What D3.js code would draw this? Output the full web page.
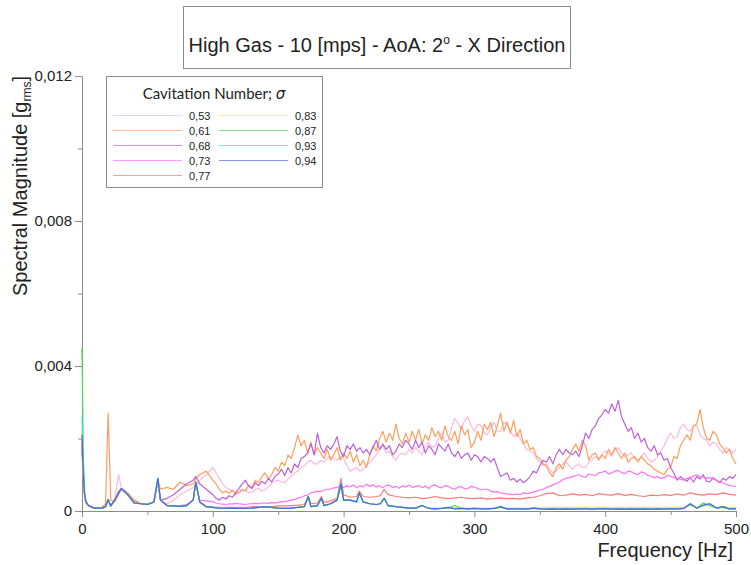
<!DOCTYPE html>
<html>
<head>
<meta charset="utf-8">
<script src="https://cdn.jsdelivr.net/npm/d3@7"></script>
<style>
  body { margin: 0; background: #fff; }
  svg text { font-family: "Liberation Sans", Arial, sans-serif; fill: #222; }
  .axis path, .axis line { stroke: #8c8c8c; }
</style>
</head>
<body>
<div id="chart"></div>
<script>
// Frequency grid [Hz] for the flat, low curves
const freqHz = [
  0, 1, 2, 3, 5, 8, 10, 15, 18, 20, 22, 25, 28, 30, 33, 35, 40, 45, 50, 55, 58, 60, 65, 70, 75, 80, 85, 87, 90, 95, 100,
  105, 110, 115, 120, 125, 130, 135, 140, 145, 150, 155, 160, 165, 170, 173, 175, 180, 183, 185, 190,
  195, 198, 200, 205, 210, 212, 215, 220, 225, 228, 231, 234, 240, 245, 250,
  255, 260, 265, 270, 275, 280, 285, 290, 295, 300, 305, 310, 315, 320, 325, 330, 335, 340, 345, 350,
  355, 360, 365, 370, 375, 380, 385, 390, 395, 400, 405, 410, 415, 420, 425, 430, 435, 440, 445, 450,
  455, 460, 465, 470, 475, 480, 485, 490, 495, 500
];
// Finer grid [Hz] for the noisy curves: same up to 100 Hz, then every 2.5 Hz
const freqFineHz = [
  0, 1, 2, 3, 5, 8, 10, 15, 18, 20, 22, 25, 28, 30, 33, 35, 40, 45, 50, 55, 58, 60, 65, 70, 75, 80, 85, 87, 90, 95, 100,
  102.5, 105, 107.5, 110, 112.5, 115, 117.5, 120, 122.5, 125, 127.5, 130, 132.5, 135, 137.5, 140, 142.5, 145, 147.5, 150,
  152.5, 155, 157.5, 160, 162.5, 165, 167.5, 170, 172.5, 175, 177.5, 180, 182.5, 185, 187.5, 190, 192.5, 195, 197.5, 200,
  202.5, 205, 207.5, 210, 212.5, 215, 217.5, 220, 222.5, 225, 227.5, 230, 232.5, 235, 237.5, 240, 242.5, 245, 247.5, 250,
  252.5, 255, 257.5, 260, 262.5, 265, 267.5, 270, 272.5, 275, 277.5, 280, 282.5, 285, 287.5, 290, 292.5, 295, 297.5, 300,
  302.5, 305, 307.5, 310, 312.5, 315, 317.5, 320, 322.5, 325, 327.5, 330, 332.5, 335, 337.5, 340, 342.5, 345, 347.5, 350,
  352.5, 355, 357.5, 360, 362.5, 365, 367.5, 370, 372.5, 375, 377.5, 380, 382.5, 385, 387.5, 390, 392.5, 395, 397.5, 400,
  402.5, 405, 407.5, 410, 412.5, 415, 417.5, 420, 422.5, 425, 427.5, 430, 432.5, 435, 437.5, 440, 442.5, 445, 447.5, 450,
  452.5, 455, 457.5, 460, 462.5, 465, 467.5, 470, 472.5, 475, 477.5, 480, 482.5, 485, 487.5, 490, 492.5, 495, 497.5, 500
];

// Spectral magnitude, in units of 0.001 g_rms, one array per cavitation number
const sigma053 = [
  1.8, 1.0, 0.45, 0.25, 0.15, 0.1, 0.08, 0.08, 0.12, 0.3, 0.14, 0.35, 1.0, 0.65, 0.55, 0.45, 0.22, 0.2, 0.18, 0.25, 0.85, 0.3, 0.2, 0.3, 0.45, 0.55, 0.65, 0.7, 0.85, 1.0, 1.2,
  1.05, 0.9, 0.75, 0.65, 0.6, 0.55, 0.52, 0.5, 0.55, 0.58, 0.5, 0.52, 0.6, 0.62, 0.55, 0.58, 0.68, 0.75, 0.82, 0.85,
  0.8, 0.78, 0.88, 0.95, 1.05, 1.1, 1.2, 1.25, 1.35, 1.4, 1.3, 1.3, 1.4, 1.35, 1.45, 1.5, 1.45, 1.4, 1.5, 1.45,
  1.25, 1.1, 1.15, 1.2, 1.1, 1.15, 1.25, 1.35, 1.45, 1.55, 1.7, 1.8, 1.6, 1.65, 1.5, 1.4, 1.55, 1.6, 1.55, 1.7,
  1.6, 1.75, 1.65, 1.55, 1.8, 1.9, 1.75, 1.8, 2.0, 2.15, 1.9, 1.95, 2.3, 2.55, 2.4, 2.25, 2.5, 2.6, 2.35, 2.2,
  2.4, 2.35, 2.15, 2.1, 2.3, 2.45, 2.2, 2.2, 2.45, 2.4, 2.2, 2.05, 2.15, 2.0, 1.85, 1.7, 1.65, 1.6, 1.45, 1.35,
  1.25, 1.3, 1.15, 1.05, 1.1, 1.2, 1.3, 1.35, 1.25, 1.15, 1.25, 1.3, 1.2, 1.2, 1.35, 1.4, 1.5, 1.45, 1.55, 1.65,
  1.6, 1.5, 1.7, 1.75, 1.6, 1.5, 1.55, 1.6, 1.45, 1.4, 1.5, 1.6, 1.45, 1.35, 1.4, 1.5, 1.65, 1.8, 2.0, 2.15,
  2.0, 2.05, 2.3, 2.4, 2.25, 2.2, 2.35, 2.35, 2.1, 2.0, 1.95, 1.8, 1.9, 1.85, 1.7, 1.6, 1.75, 1.7, 1.6, 1.7
];
const sigma061 = [
  1.6, 0.9, 0.4, 0.22, 0.14, 0.1, 0.08, 0.1, 0.2, 2.7, 0.3, 0.25, 0.45, 0.6, 0.55, 0.5, 0.3, 0.2, 0.2, 0.25, 0.85, 0.6, 0.65, 0.6, 0.8, 0.7, 0.75, 0.9, 1.0, 1.1, 0.85,
  0.75, 0.6, 0.5, 0.55, 0.48, 0.58, 0.45, 0.52, 0.6, 0.55, 0.72, 0.65, 0.85, 0.78, 0.95, 1.05, 0.88, 1.0, 1.2, 1.1,
  1.35, 1.25, 1.55, 1.45, 1.75, 2.1, 1.8, 1.95, 1.6, 1.9, 1.55, 1.75, 1.6, 1.45, 1.7, 1.4, 1.55, 1.75, 1.4, 1.6,
  1.45, 1.65, 1.35, 1.55, 1.25, 1.4, 1.2, 1.55, 1.8, 1.65, 2.0, 2.2, 1.9, 2.15, 1.95, 2.4, 2.0, 1.85, 2.15, 1.9,
  2.2, 1.95, 2.25, 1.85, 2.1, 1.95, 2.3, 2.05, 2.2, 1.95, 2.35, 2.05, 1.95, 2.2, 1.85, 2.35, 2.1, 2.25, 1.75, 1.9,
  2.2, 1.95, 2.4, 2.25, 2.45, 2.05, 2.35, 2.7, 2.2, 2.45, 2.15, 2.5, 2.05, 2.25, 1.85, 1.95, 1.7, 1.75, 1.5, 1.45,
  1.3, 1.25, 1.05, 0.95, 1.2, 1.3, 1.15, 1.4, 1.5, 1.7, 1.85, 1.65, 1.95, 1.8, 1.4, 1.55, 1.6, 1.4, 1.55, 1.45,
  1.7, 1.55, 1.75, 1.6, 1.45, 1.6, 1.35, 1.45, 1.5, 1.35, 1.5, 1.4, 1.3, 1.25, 1.15, 1.1, 1.05, 1.0, 1.15, 1.2,
  1.5, 1.45, 1.8, 1.95, 2.1, 1.95, 2.35, 2.4, 2.8, 2.3, 2.0, 1.95, 2.2, 2.1, 1.85, 1.75, 1.6, 1.7, 1.45, 1.3
];
const sigma068 = [
  1.9, 1.0, 0.45, 0.25, 0.15, 0.1, 0.08, 0.08, 0.12, 0.3, 0.14, 0.3, 0.5, 0.62, 0.5, 0.45, 0.22, 0.2, 0.18, 0.25, 0.85, 0.3, 0.35, 0.45, 0.6, 0.75, 0.85, 0.95, 0.75, 0.6, 0.45,
  0.35, 0.3, 0.38, 0.33, 0.42, 0.38, 0.5, 0.62, 0.75, 0.85, 0.68, 0.62, 0.78, 0.7, 0.82, 0.75, 0.9, 0.8, 0.95, 1.02,
  1.15, 0.98, 1.2, 1.05, 1.3, 1.2, 1.45, 1.5, 1.6, 1.85, 1.55, 2.15, 1.75, 1.6, 1.8, 1.7, 1.85, 2.05, 1.65, 1.5,
  1.8, 1.7, 1.85, 1.65, 1.75, 1.6, 1.7, 1.55, 1.75, 1.95, 1.7, 1.85, 1.7, 1.8, 1.55, 1.65, 1.85, 1.75, 1.95, 1.85,
  1.7, 1.95, 1.75, 1.9, 1.6, 1.8, 1.7, 1.55, 1.85, 1.75, 1.65, 1.85, 1.6, 1.5, 1.65, 1.45, 1.55, 1.6, 1.4, 1.55,
  1.5, 1.35, 1.5, 1.45, 1.35, 1.45, 1.2, 0.95, 1.0, 1.05, 0.85, 0.9, 0.8, 0.88, 0.78, 0.85, 0.95, 1.1, 1.05, 1.25,
  1.4, 1.35, 1.5, 1.3, 1.55, 1.7, 1.55, 1.7, 1.6, 1.55, 1.65, 1.5, 1.8, 2.15, 2.0, 2.25, 2.35, 2.55, 2.65, 2.8,
  2.7, 2.95, 2.75, 3.05, 2.6, 2.4, 2.2, 2.3, 2.0, 2.15, 1.9, 2.0, 1.75, 1.65, 1.8, 1.55, 1.6, 1.4, 1.45, 1.2,
  1.05, 0.85, 0.95, 0.88, 0.82, 0.92, 0.8, 0.95, 0.88, 1.0, 0.82, 0.8, 0.92, 0.85, 0.78, 0.9, 0.85, 0.95, 0.9, 1.0
];
const sigma073 = [
  2.0, 1.0, 0.45, 0.25, 0.15, 0.1, 0.08, 0.08, 0.12, 0.3, 0.14, 0.3, 0.55, 0.6, 0.5, 0.45, 0.22, 0.2, 0.18, 0.25, 0.85, 0.3, 0.15, 0.14, 0.15, 0.18, 0.3, 0.75, 0.3, 0.28, 0.25,
  0.22, 0.2, 0.19, 0.18, 0.2, 0.19, 0.21, 0.2, 0.19, 0.18, 0.2, 0.2, 0.21, 0.2, 0.22, 0.22, 0.21, 0.23, 0.22, 0.24,
  0.26, 0.25, 0.28, 0.3, 0.32, 0.35, 0.38, 0.42, 0.44, 0.5, 0.52, 0.55, 0.53, 0.58, 0.6, 0.6, 0.64, 0.65, 0.7, 0.65,
  0.7, 0.66, 0.72, 0.64, 0.7, 0.66, 0.74, 0.68, 0.72, 0.66, 0.7, 0.64, 0.7, 0.72, 0.65, 0.68, 0.63, 0.7, 0.66, 0.72,
  0.65, 0.68, 0.7, 0.64, 0.69, 0.62, 0.7, 0.72, 0.66, 0.64, 0.7, 0.68, 0.63, 0.6, 0.66, 0.67, 0.61, 0.62, 0.68, 0.66,
  0.62, 0.58, 0.6, 0.6, 0.55, 0.52, 0.54, 0.5, 0.48, 0.47, 0.46, 0.45, 0.47, 0.45, 0.5, 0.48, 0.5, 0.52, 0.55, 0.58,
  0.6, 0.65, 0.68, 0.72, 0.76, 0.8, 0.86, 0.9, 0.92, 0.95, 0.98, 1.0, 0.95, 0.93, 1.02, 1.0, 0.98, 1.05, 1.07, 1.1,
  1.02, 1.05, 1.1, 1.12, 1.06, 1.03, 1.1, 1.08, 1.03, 1.0, 1.08, 1.05, 0.98, 0.96, 0.92, 0.95, 0.9, 0.92, 0.98, 0.96,
  0.92, 0.9, 0.88, 0.85, 0.9, 0.92, 0.97, 1.0, 0.93, 0.95, 0.9, 0.92, 0.88, 0.85, 0.8, 0.78, 0.74, 0.7, 0.69, 0.67
];
const sigma077 = [
  1.7, 1.0, 0.45, 0.25, 0.15, 0.1, 0.08, 0.08, 0.12, 0.3, 0.14, 0.3, 0.5, 0.6, 0.55, 0.45, 0.25, 0.2, 0.18, 0.25, 0.85, 0.3, 0.15, 0.14, 0.13, 0.15, 0.3, 0.8, 0.25, 0.12, 0.1,
  0.1, 0.1, 0.1, 0.1, 0.1, 0.12, 0.12, 0.12, 0.12, 0.14, 0.14, 0.15, 0.16, 0.18, 0.4, 0.2, 0.22, 0.4, 0.24, 0.28,
  0.35, 0.9, 0.45, 0.38, 0.4, 0.55, 0.4, 0.38, 0.4, 0.42, 0.6, 0.45, 0.4, 0.38, 0.36,
  0.38, 0.34, 0.36, 0.4, 0.36, 0.34, 0.36, 0.38, 0.35, 0.34, 0.36, 0.33, 0.34, 0.36, 0.34, 0.35, 0.33, 0.36, 0.38, 0.42,
  0.48, 0.5, 0.42, 0.44, 0.47, 0.44, 0.46, 0.42, 0.48, 0.45, 0.44, 0.48, 0.43, 0.46, 0.42, 0.4, 0.44, 0.42, 0.45, 0.43,
  0.47, 0.44, 0.5, 0.46, 0.44, 0.47, 0.45, 0.5, 0.46, 0.44
];
const sigma083 = [
  2.2, 1.0, 0.45, 0.25, 0.15, 0.1, 0.08, 0.08, 0.12, 0.32, 0.14, 0.3, 0.5, 0.62, 0.52, 0.45, 0.22, 0.2, 0.18, 0.25, 0.9, 0.3, 0.15, 0.14, 0.13, 0.15, 0.3, 0.8, 0.25, 0.12, 0.1,
  0.09, 0.08, 0.09, 0.08, 0.08, 0.09, 0.1, 0.12, 0.1, 0.09, 0.08, 0.09, 0.1, 0.12, 0.38, 0.12, 0.15, 0.32, 0.15, 0.2,
  0.3, 0.7, 0.3, 0.3, 0.25, 0.48, 0.25, 0.2, 0.18, 0.2, 0.33, 0.15, 0.12, 0.1, 0.09,
  0.09, 0.14, 0.08, 0.08, 0.08, 0.1, 0.08, 0.08, 0.08, 0.08, 0.08, 0.08, 0.08, 0.11, 0.08, 0.08, 0.08, 0.08, 0.09, 0.09,
  0.1, 0.1, 0.1, 0.1, 0.1, 0.1, 0.1, 0.1, 0.1, 0.1, 0.1, 0.1, 0.1, 0.1, 0.1, 0.1, 0.1, 0.1, 0.1, 0.1,
  0.1, 0.1, 0.15, 0.1, 0.14, 0.16, 0.1, 0.11, 0.1, 0.1
];
const sigma087 = [
  4.5, 1.5, 0.5, 0.25, 0.15, 0.1, 0.08, 0.08, 0.12, 0.32, 0.14, 0.3, 0.5, 0.62, 0.52, 0.45, 0.22, 0.2, 0.18, 0.25, 0.9, 0.3, 0.15, 0.14, 0.13, 0.15, 0.3, 0.8, 0.25, 0.12, 0.1,
  0.08, 0.07, 0.08, 0.07, 0.07, 0.08, 0.1, 0.12, 0.1, 0.08, 0.07, 0.08, 0.1, 0.12, 0.4, 0.12, 0.15, 0.35, 0.15, 0.2,
  0.3, 0.7, 0.3, 0.3, 0.25, 0.5, 0.25, 0.2, 0.18, 0.2, 0.35, 0.15, 0.12, 0.1, 0.08,
  0.08, 0.16, 0.07, 0.06, 0.07, 0.08, 0.15, 0.07, 0.06, 0.07, 0.06, 0.06, 0.07, 0.1, 0.06, 0.06, 0.06, 0.05, 0.07, 0.06,
  0.05, 0.06, 0.05, 0.06, 0.05, 0.06, 0.06, 0.05, 0.06, 0.07, 0.05, 0.06, 0.05, 0.06, 0.05, 0.06, 0.05, 0.06, 0.05, 0.06,
  0.06, 0.07, 0.18, 0.08, 0.22, 0.15, 0.08, 0.1, 0.06, 0.06
];
const sigma093 = [
  2.6, 1.2, 0.45, 0.25, 0.15, 0.1, 0.08, 0.08, 0.12, 0.32, 0.14, 0.3, 0.5, 0.62, 0.52, 0.45, 0.22, 0.2, 0.18, 0.25, 0.9, 0.3, 0.15, 0.14, 0.13, 0.15, 0.3, 0.8, 0.25, 0.12, 0.1,
  0.08, 0.07, 0.08, 0.07, 0.07, 0.08, 0.1, 0.12, 0.1, 0.08, 0.07, 0.08, 0.1, 0.12, 0.4, 0.12, 0.15, 0.35, 0.15, 0.2,
  0.3, 0.8, 0.3, 0.3, 0.25, 0.5, 0.25, 0.2, 0.18, 0.2, 0.35, 0.15, 0.12, 0.1, 0.08,
  0.08, 0.15, 0.07, 0.06, 0.07, 0.1, 0.06, 0.07, 0.06, 0.07, 0.06, 0.06, 0.07, 0.12, 0.06, 0.06, 0.06, 0.05, 0.08, 0.06,
  0.05, 0.06, 0.05, 0.06, 0.05, 0.06, 0.06, 0.05, 0.06, 0.06, 0.05, 0.06, 0.05, 0.06, 0.05, 0.06, 0.05, 0.06, 0.05, 0.06,
  0.06, 0.07, 0.2, 0.08, 0.16, 0.2, 0.08, 0.12, 0.06, 0.06
];
const sigma094 = [
  2.1, 1.0, 0.45, 0.25, 0.15, 0.1, 0.08, 0.08, 0.12, 0.32, 0.14, 0.3, 0.5, 0.62, 0.52, 0.45, 0.22, 0.2, 0.18, 0.25, 0.9, 0.3, 0.15, 0.14, 0.13, 0.15, 0.3, 0.8, 0.25, 0.12, 0.1,
  0.08, 0.07, 0.08, 0.07, 0.07, 0.08, 0.1, 0.12, 0.1, 0.08, 0.07, 0.08, 0.1, 0.12, 0.4, 0.12, 0.15, 0.35, 0.15, 0.2,
  0.3, 0.75, 0.3, 0.3, 0.25, 0.5, 0.25, 0.2, 0.18, 0.2, 0.35, 0.15, 0.12, 0.1, 0.08,
  0.08, 0.15, 0.07, 0.06, 0.07, 0.1, 0.06, 0.07, 0.06, 0.07, 0.06, 0.06, 0.07, 0.12, 0.06, 0.06, 0.06, 0.05, 0.08, 0.06,
  0.05, 0.06, 0.05, 0.06, 0.05, 0.06, 0.06, 0.05, 0.06, 0.06, 0.05, 0.06, 0.05, 0.06, 0.05, 0.06, 0.05, 0.06, 0.05, 0.06,
  0.06, 0.07, 0.2, 0.08, 0.16, 0.2, 0.08, 0.12, 0.06, 0.06
];

const sigmaLabels = ['0,53', '0,61', '0,68', '0,73', '0,77', '0,83', '0,87', '0,93', '0,94'];
const seriesValues = [sigma053, sigma061, sigma068, sigma073, sigma077, sigma083, sigma087, sigma093, sigma094];
const seriesFreq = [freqFineHz, freqFineHz, freqFineHz, freqFineHz, freqHz, freqHz, freqHz, freqHz, freqHz];
const lineColors = ['#ffb8dc', '#ff9d5c', '#bd60dc', '#ff70fa', '#ff7878', '#f0f040', '#44dc50', '#44dcdc', '#5266e0'];

const xTicks = [0, 100, 200, 300, 400, 500];
const xMinorTicks = [50, 150, 250, 350, 450];
const yTicks = [0, 0.004, 0.008, 0.012];
const yMinorTicks = [0.002, 0.006, 0.010];

const locale = d3.formatLocale({ decimal: ',', thousands: '.', grouping: [3], currency: ['', ''] });
const yFormat = d => d === 0 ? '0' : locale.format('.3f')(d);

const W = 751, H = 565;
const svg = d3.select('#chart').append('svg').attr('width', W).attr('height', H);

const x = d3.scaleLinear().domain([0, 500]).range([82, 736]);
const y = d3.scaleLinear().domain([0, 0.012]).range([511, 76]);

// title box
svg.append('rect')
  .attr('x', 183.5).attr('y', 6.5).attr('width', 387).attr('height', 62)
  .attr('fill', '#fff').attr('stroke', '#8c8c8c');
const title = svg.append('text')
  .attr('x', 377).attr('y', 52).attr('text-anchor', 'middle')
  .style('font-size', '20px');
title.append('tspan').text('High Gas - 10 [mps] - AoA: 2');
title.append('tspan').attr('dy', -8).style('font-size', '12px').text('o');
title.append('tspan').attr('dy', 8).text(' - X Direction');

// axes
const xAxis = svg.append('g').attr('class', 'axis').attr('transform', 'translate(0,511)')
  .call(d3.axisBottom(x).tickValues(xTicks).tickSize(6).tickSizeOuter(0).tickPadding(6));
svg.append('g').attr('class', 'axis').attr('transform', 'translate(0,511)')
  .call(d3.axisBottom(x).tickValues(xMinorTicks).tickSize(4).tickFormat(''))
  .select('.domain').remove();
xAxis.selectAll('text').style('font-size', '15px').style('font-family', '"Liberation Sans", Arial, sans-serif');

const yAxis = svg.append('g').attr('class', 'axis').attr('transform', 'translate(82,0)')
  .call(d3.axisLeft(y).tickValues(yTicks).tickFormat(yFormat).tickSize(7).tickSizeOuter(0).tickPadding(3));
svg.append('g').attr('class', 'axis').attr('transform', 'translate(82,0)')
  .call(d3.axisLeft(y).tickValues(yMinorTicks).tickSize(4).tickFormat(''))
  .select('.domain').remove();
yAxis.selectAll('text').style('font-size', '15px').style('font-family', '"Liberation Sans", Arial, sans-serif');

// axis titles
const yTitle = svg.append('text')
  .attr('transform', 'translate(27,186) rotate(-90)')
  .attr('text-anchor', 'middle')
  .style('font-size', '20px');
yTitle.append('tspan').text('Spectral Magnitude [g');
yTitle.append('tspan').attr('dy', 4).style('font-size', '12px').text('rms');
yTitle.append('tspan').attr('dy', -4).text(']');

svg.append('text')
  .attr('x', 733).attr('y', 557).attr('text-anchor', 'end')
  .style('font-size', '20px')
  .text('Frequency [Hz]');

// curves
svg.append('g').selectAll('path')
  .data(seriesValues)
  .join('path')
  .attr('d', (vals, s) => d3.line()
    .x((d, i) => x(seriesFreq[s][i]))
    .y(d => y(d * 1e-3))(vals))
  .attr('fill', 'none')
  .attr('stroke', (d, i) => lineColors[i])
  .attr('stroke-width', 1.2)
  .attr('stroke-linejoin', 'round');

// legend
const legend = svg.append('g');
legend.append('rect')
  .attr('x', 106.5).attr('y', 76.5).attr('width', 216).attr('height', 111)
  .attr('fill', '#fff').attr('stroke', '#8c8c8c');
const legTitle = legend.append('text')
  .attr('x', 214).attr('y', 99).attr('text-anchor', 'middle')
  .style('font-family', 'Lato, "Open Sans", sans-serif').style('font-size', '15px');
legTitle.append('tspan').text('Cavitation Number; ');
legTitle.append('tspan').style('font-style', 'italic').style('font-family', '"DejaVu Sans", sans-serif').text('σ');

sigmaLabels.forEach((lab, i) => {
  const col = i < 5 ? 0 : 1;
  const row = i < 5 ? i : i - 5;
  const lx = col === 0 ? 113 : 219;
  const ly = 115.5 + row * 15;
  legend.append('line')
    .attr('x1', lx).attr('x2', lx + 69).attr('y1', ly).attr('y2', ly)
    .attr('stroke', lineColors[i]).attr('stroke-width', 1).attr('stroke-opacity', 0.7);
  legend.append('text')
    .attr('x', lx + 76).attr('y', ly + 4)
    .style('font-size', '11px')
    .text(lab);
});
</script>
</body>
</html>
